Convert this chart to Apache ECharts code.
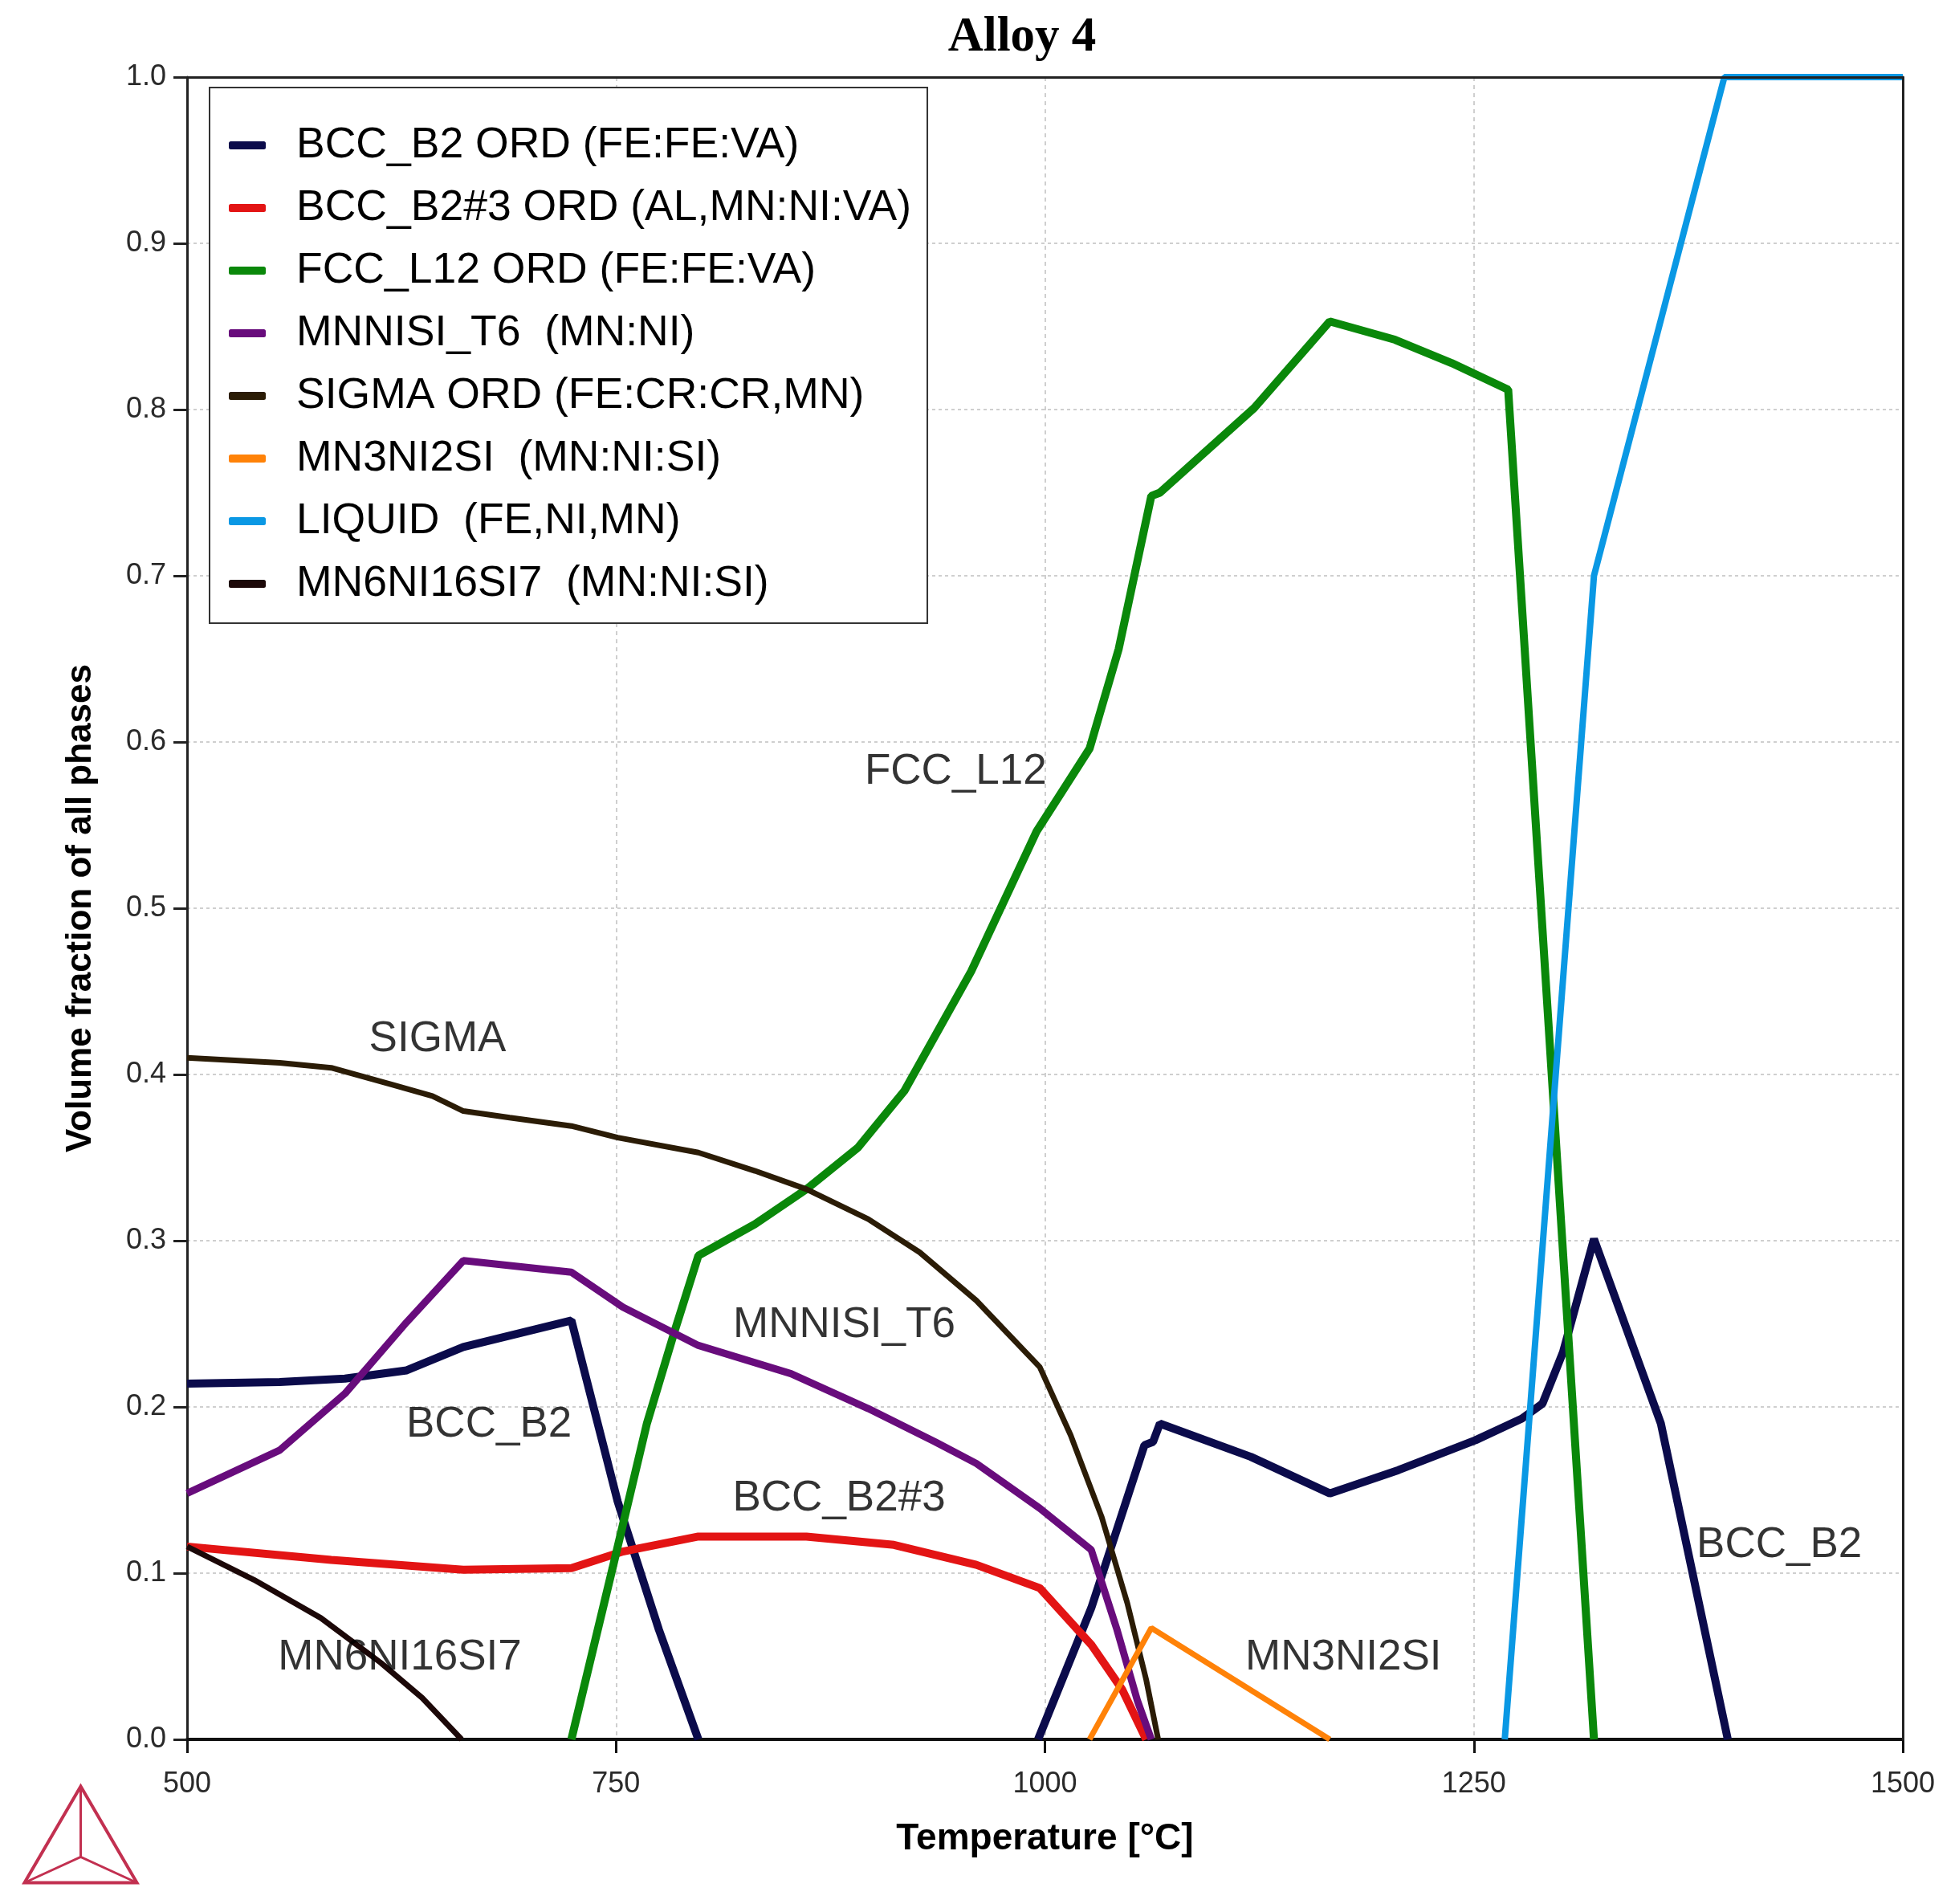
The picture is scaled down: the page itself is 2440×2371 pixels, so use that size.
<!DOCTYPE html>
<html>
<head>
<meta charset="utf-8">
<script src="https://cdn.jsdelivr.net/npm/echarts@6/dist/echarts.min.js"></script>
<style>
  html, body { margin: 0; padding: 0; background: #fff; }
  #chart { width: 2440px; height: 2371px; }
</style>
</head>
<body>
<div id="chart"></div>
<script>
// temperature [°C], volume fraction
const bccB2 = [[500,0.214],[554,0.215],[592,0.217],[628,0.222],[661,0.236],[724,0.252],[751,0.143],[775,0.066],[798,0],
  [900,'-'],
  [996,0],[1027,0.079],[1058,0.177],[1063,0.179],[1067,0.190],[1120,0.170],[1166,0.148],[1206,0.162],[1251,0.180],
  [1278,0.193],[1290,0.202],[1302,0.233],[1320,0.301],[1359,0.190],[1398,0]]
const bccB2_3 = [[500,0.116],[584,0.108],[661,0.102],[724,0.103],[754,0.113],[798,0.122],[861,0.122],[912,0.117],
  [960,0.105],[997,0.091],[1027,0.057],[1045,0.030],[1059,0]]
const fccL12 = [[724,0],[748,0.103],[768,0.190],[784,0.245],[798,0.291],[831,0.310],[861,0.331],[891,0.356],[918,0.390],
  [957,0.462],[995,0.546],[1026,0.596],[1043,0.656],[1062,0.748],[1067,0.750],[1122,0.801],[1166,0.853],[1204,0.842],
  [1237,0.828],[1270,0.812],[1320,0]]
const mnnisiT6 = [[500,0.148],[554,0.174],[592,0.208],[628,0.251],[661,0.288],[724,0.281],[754,0.260],[798,0.237],
  [852,0.220],[897,0.199],[936,0.179],[960,0.166],[997,0.139],[1027,0.114],[1042,0.066],[1054,0.023],[1062,0]]
const sigma = [[500,0.410],[554,0.407],[584,0.404],[619,0.394],[643,0.387],[661,0.378],[688,0.374],[724,0.369],
  [751,0.362],[798,0.353],[831,0.342],[861,0.331],[897,0.313],[927,0.293],[960,0.264],[997,0.224],[1015,0.183],
  [1033,0.134],[1048,0.082],[1059,0.036],[1066,0]]
const mn3ni2si = [[1026,0],[1062,0.067],[1166,0]]
const liquid = [[1268,0],[1320,0.700],[1396,1.0],[1500,1.0]]
const mn6ni16si7 = [[500,0.116],[539,0.096],[578,0.073],[613,0.046],[637,0.025],[660,0]]

const phaseNames = ['BCC_B2 ORD (FE:FE:VA)','BCC_B2#3 ORD (AL,MN:NI:VA)','FCC_L12 ORD (FE:FE:VA)','MNNISI_T6  (MN:NI)',
  'SIGMA ORD (FE:CR:CR,MN)','MN3NI2SI  (MN:NI:SI)','LIQUID  (FE,NI,MN)','MN6NI16SI7  (MN:NI:SI)']
const phaseData = [bccB2, bccB2_3, fccL12, mnnisiT6, sigma, mn3ni2si, liquid, mn6ni16si7]
const phaseColors = ['#0b0b4b','#e31414','#0a880a','#680c7c','#2b1c06','#ff8208','#0a98e4','#1c0808']
const phaseWidths = [10,10,10,9,7,7,8,7]

// in-plot phase labels: [text, T, fraction]
const annotations = [['FCC_L12',948,0.582],['SIGMA',646,0.421],['MNNISI_T6',883,0.249],['BCC_B2',676,0.189],
  ['BCC_B2#3',880,0.1445],['MN6NI16SI7',624,0.049],['MN3NI2SI',1174,0.049],['BCC_B2',1428,0.1165]]

const chart = echarts.init(document.getElementById('chart'))

let series = phaseData.map((d, i) => ({
  name: phaseNames[i],
  type: 'line',
  data: d,
  symbol: 'none',
  lineStyle: { color: phaseColors[i], width: phaseWidths[i] },
  itemStyle: { color: phaseColors[i] },
  z: 3
}))
series.push({
  name: 'labels',
  type: 'scatter',
  data: annotations.map(a => ({ value: [a[1], a[2]], name: a[0] })),
  symbolSize: 0,
  silent: true,
  z: 4,
  label: {
    show: true,
    position: 'inside',
    formatter: p => p.name,
    color: '#000',
    fontFamily: 'Liberation Sans, Arial, sans-serif',
    fontSize: 53
  }
})

const labelFont = 'Liberation Sans, Arial, sans-serif'
// plain axes on top and right to close the plot frame
const frameAxis = { show: true, z: 5, axisLine: { onZero: false, lineStyle: { color: '#222', width: 3 } },
  axisTick: { show: false }, axisLabel: { show: false }, splitLine: { show: false } }

const option = {
  animation: false,
  backgroundColor: '#fff',
  title: {
    text: 'Alloy 4',
    left: 1268,
    top: 12,
    textAlign: 'center',
    textStyle: { fontFamily: 'Liberation Serif, Times New Roman, serif', fontWeight: 'bold', fontSize: 61, color: '#000' }
  },
  grid: { left: 233, right: 70, top: 96, bottom: 205 },
  legend: {
    data: phaseNames,
    orient: 'vertical',
    left: 261,
    top: 109,
    padding: [44, 20, 21, 24],
    itemGap: 22,
    itemWidth: 46,
    itemHeight: 10,
    icon: 'roundRect',
    backgroundColor: '#fff',
    borderColor: '#333',
    borderWidth: 2,
    borderRadius: 0,
    textStyle: { fontFamily: labelFont, fontSize: 53.5, color: '#000', lineHeight: 56, padding: [0, 0, 0, 33] }
  },
  xAxis: [{
    type: 'value',
    min: 500,
    max: 1500,
    interval: 250,
    name: 'Temperature [°C]',
    nameLocation: 'middle',
    nameGap: 101,
    nameTextStyle: { fontFamily: labelFont, fontWeight: 'bold', fontSize: 46, color: '#000' },
    axisLine: { onZero: false, lineStyle: { color: '#111', width: 4 } },
    axisTick: { length: 17, lineStyle: { color: '#111', width: 3 } },
    axisLabel: { margin: 38, fontFamily: labelFont, fontSize: 36, color: '#2a2a2a', formatter: v => String(v) },
    splitLine: { show: true, lineStyle: { color: '#cfcfcf', width: 2, type: [5, 5] } }
  }, Object.assign({ type: 'value', position: 'top', min: 500, max: 1500 }, frameAxis)],
  yAxis: [{
    type: 'value',
    min: 0,
    max: 1,
    interval: 0.1,
    name: 'Volume fraction of all phases',
    nameLocation: 'middle',
    nameGap: 110,
    nameTextStyle: { fontFamily: labelFont, fontWeight: 'bold', fontSize: 44, color: '#000' },
    axisLine: { onZero: false, lineStyle: { color: '#222', width: 3 } },
    axisTick: { length: 17, lineStyle: { color: '#222', width: 3 } },
    axisLabel: { margin: 26, fontFamily: labelFont, fontSize: 36, color: '#2a2a2a', formatter: v => v.toFixed(1) },
    splitLine: { show: true, lineStyle: { color: '#cfcfcf', width: 2, type: [4, 4] } }
  }, Object.assign({ type: 'value', position: 'right', min: 0, max: 1 }, frameAxis)],
  // Thermo-Calc style logo, bottom left
  graphic: [{
    type: 'group',
    left: 28,
    top: 2222,
    children: [
      { type: 'polygon', shape: { points: [[70,0],[0,120],[140,120]] }, style: { fill: 'none', stroke: '#c23050', lineWidth: 4 } },
      { type: 'polyline', shape: { points: [[70,0],[70,88]] }, style: { stroke: '#c23050', lineWidth: 3 } },
      { type: 'polyline', shape: { points: [[0,120],[70,88],[140,120]] }, style: { stroke: '#c23050', lineWidth: 3 } }
    ]
  }],
  series: series
}

chart.setOption(option)
</script>
</body>
</html>
